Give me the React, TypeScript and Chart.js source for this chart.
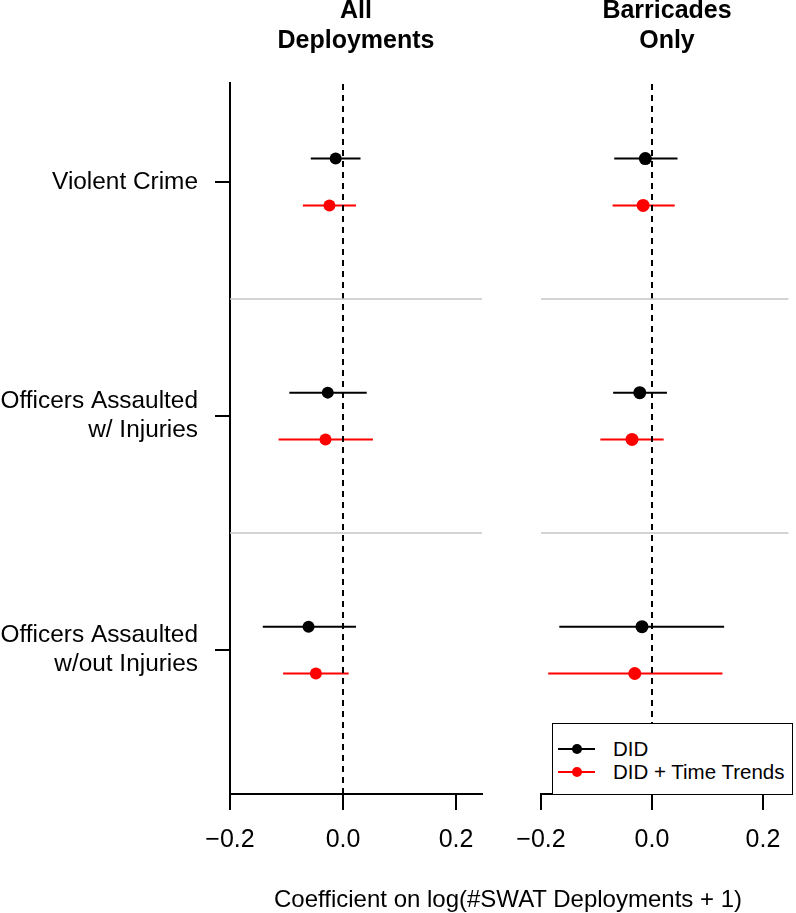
import React, { useEffect, useRef } from "react";
import { Chart, registerables } from "chart.js";

Chart.register(...registerables);

const FONT = "'Liberation Sans', Arial, Helvetica, sans-serif";

// ---- data ----
const categoryLabels: (string | string[])[] = [
  "Violent Crime",
  ["Officers Assaulted", "w/ Injuries"],
  ["Officers Assaulted", "w/out Injuries"],
];
const categoryY = [3, 2, 1];
const separatorY = [2.5, 1.5];
const xTicks = [-0.2, 0, 0.2];
const panelTitles = [["All", "Deployments"], ["Barricades", "Only"]];
const seriesNames = ["DID", "DID + Time Trends"];
const seriesColors = ["#000000", "#ff0000"];
const xAxisTitle = "Coefficient on log(#SWAT Deployments + 1)";

// All deployments
const allDid = [-0.013, -0.027, -0.061];
const allDidLo = [-0.057, -0.095, -0.142];
const allDidHi = [0.031, 0.042, 0.023];
const allTT = [-0.024, -0.031, -0.048];
const allTTLo = [-0.071, -0.114, -0.106];
const allTTHi = [0.023, 0.053, 0.01];

// Barricades only
const barDid = [-0.012, -0.022, -0.018];
const barDidLo = [-0.068, -0.07, -0.167];
const barDidHi = [0.046, 0.027, 0.13];
const barTT = [-0.016, -0.036, -0.031];
const barTTLo = [-0.071, -0.093, -0.187];
const barTTHi = [0.041, 0.021, 0.127];

const X_MIN = -0.2;
const X_MAX = 0.246;
const Y_MIN = 0.385;
const Y_MAX = 3.423;
const OFFSETS = [0.1, -0.1];

function fmtTick(v: number) {
  const s = Math.abs(v).toFixed(1);
  return v < -1e-9 ? "\u2212" + s : s;
}

function buildDatasets(
  est: number[][],
  lo: number[][],
  hi: number[][],
  radius: number
) {
  const ds: any[] = [];
  separatorY.forEach((y) =>
    ds.push({
      data: [
        { x: X_MIN, y },
        { x: X_MAX, y },
      ],
      showLine: true,
      borderColor: "#c6c6c6",
      borderWidth: 1.5,
      pointRadius: 0,
      clip: false,
    })
  );
  ds.push({
    data: [
      { x: 0, y: Y_MIN },
      { x: 0, y: Y_MAX },
    ],
    showLine: true,
    borderColor: "#000",
    borderWidth: 2,
    borderDash: [6, 5],
    pointRadius: 0,
  });
  est.forEach((series, s) => {
    categoryY.forEach((c, i) => {
      const y = c + OFFSETS[s];
      ds.push({
        data: [
          { x: lo[s][i], y },
          { x: hi[s][i], y },
        ],
        showLine: true,
        borderColor: seriesColors[s],
        borderWidth: 2,
        pointRadius: 0,
      });
    });
  });
  est.forEach((series, s) => {
    ds.push({
      label: seriesNames[s],
      data: categoryY.map((c, i) => ({ x: series[i], y: c + OFFSETS[s] })),
      showLine: false,
      backgroundColor: seriesColors[s],
      borderWidth: 0,
      pointRadius: radius,
      pointBorderWidth: 0,
    });
  });
  return ds;
}

function makeOptions(showY: boolean, padLeft: number, padRight: number): any {
  return {
    animation: false,
    responsive: false,
    maintainAspectRatio: false,
    layout: { padding: { top: 83, left: padLeft, right: padRight, bottom: 0 } },
    plugins: { legend: { display: false }, tooltip: { enabled: false }, title: { display: false } },
    scales: {
      x: {
        type: "linear",
        min: X_MIN,
        max: X_MAX,
        afterBuildTicks: (s: any) => {
          s.ticks = xTicks.map((v) => ({ value: v }));
        },
        afterFit: (s: any) => {
          s.height = 119;
        },
        ticks: {
          callback: (v: any) => fmtTick(Number(v)),
          color: "#000",
          font: { family: FONT, size: 25 },
          padding: 15,
          maxRotation: 0,
          minRotation: 0,
          autoSkip: false,
        },
        grid: {
          drawOnChartArea: false,
          drawTicks: true,
          tickLength: 16,
          color: "#000",
          lineWidth: 2,
        },
        border: { display: true, color: "#000", width: 2 },
      },
      y: {
        type: "linear",
        min: Y_MIN,
        max: Y_MAX,
        display: showY,
        afterBuildTicks: (s: any) => {
          s.ticks = [...categoryY].sort((a, b) => a - b).map((v) => ({ value: v }));
        },
        afterFit: (s: any) => {
          s.width = showY ? 230 : 0;
        },
        ticks: {
          callback: (v: any) => categoryLabels[categoryY.indexOf(Number(v))],
          color: "#000",
          font: { family: FONT, size: 24.4, lineHeight: 1.18 },
          padding: 17,
          autoSkip: false,
        },
        grid: {
          drawOnChartArea: false,
          drawTicks: true,
          tickLength: 15,
          color: "#000",
          lineWidth: 2,
        },
        border: { display: true, color: "#000", width: 2 },
      },
    },
  };
}

function Panel(props: {
  left: number;
  width: number;
  est: number[][];
  lo: number[][];
  hi: number[][];
  radius: number;
  showY: boolean;
  padLeft: number;
  padRight: number;
}) {
  const ref = useRef<HTMLCanvasElement | null>(null);
  useEffect(() => {
    if (!ref.current) return;
    const chart = new Chart(ref.current, {
      type: "scatter",
      data: { datasets: buildDatasets(props.est, props.lo, props.hi, props.radius) },
      options: makeOptions(props.showY, props.padLeft, props.padRight),
    });
    return () => chart.destroy();
  }, []);
  return (
    <canvas
      ref={ref}
      width={props.width}
      height={913}
      style={{ position: "absolute", left: props.left, top: 0, width: props.width, height: 913 }}
    />
  );
}

function PanelTitle(props: { lines: string[]; center: number }) {
  return (
    <div
      style={{
        position: "absolute",
        left: props.center - 150,
        width: 300,
        top: -6,
        textAlign: "center",
        fontFamily: FONT,
        fontWeight: "bold",
        fontSize: 25,
        lineHeight: "30px",
        color: "#000",
      }}
    >
      {props.lines.map((l, i) => (
        <div key={i}>{l}</div>
      ))}
    </div>
  );
}

function LegendBox() {
  return (
    <div
      style={{
        position: "absolute",
        left: 552,
        top: 723,
        width: 241,
        height: 72,
        boxSizing: "border-box",
        border: "1.5px solid #000",
        background: "#fff",
        fontFamily: FONT,
        fontSize: 20.5,
        color: "#000",
      }}
    >
      {seriesNames.map((name, i) => (
        <div
          key={i}
          style={{ position: "absolute", left: 0, top: 13 + i * 23, height: 24, width: 236 }}
        >
          <svg width={40} height={24} style={{ position: "absolute", left: 4, top: 0 }}>
            <line x1={1} y1={12} x2={38} y2={12} stroke={seriesColors[i]} strokeWidth={2} />
            <circle cx={20} cy={12} r={5} fill={seriesColors[i]} />
          </svg>
          <div style={{ position: "absolute", left: 60, top: 0, lineHeight: "24px", whiteSpace: "nowrap" }}>
            {name}
          </div>
        </div>
      ))}
    </div>
  );
}

export default function App() {
  return (
    <div
      style={{
        position: "absolute",
        left: 0,
        top: 0,
        width: 796,
        height: 913,
        background: "#fff",
        overflow: "hidden",
      }}
    >
      <Panel
        left={0}
        width={490}
        est={[allDid, allTT]}
        lo={[allDidLo, allTTLo]}
        hi={[allDidHi, allTTHi]}
        radius={6}
        showY={true}
        padLeft={0}
        padRight={8}
      />
      <Panel
        left={490}
        width={306}
        est={[barDid, barTT]}
        lo={[barDidLo, barTTLo]}
        hi={[barDidHi, barTTHi]}
        radius={6.5}
        showY={false}
        padLeft={51}
        padRight={3}
      />
      <PanelTitle lines={panelTitles[0]} center={356} />
      <PanelTitle lines={panelTitles[1]} center={667} />
      <LegendBox />
      <div
        style={{
          position: "absolute",
          left: 508,
          top: 885,
          transform: "translateX(-50%)",
          whiteSpace: "nowrap",
          fontFamily: FONT,
          fontSize: 24,
          lineHeight: "28px",
          color: "#000",
        }}
      >
        {xAxisTitle}
      </div>
    </div>
  );
}
